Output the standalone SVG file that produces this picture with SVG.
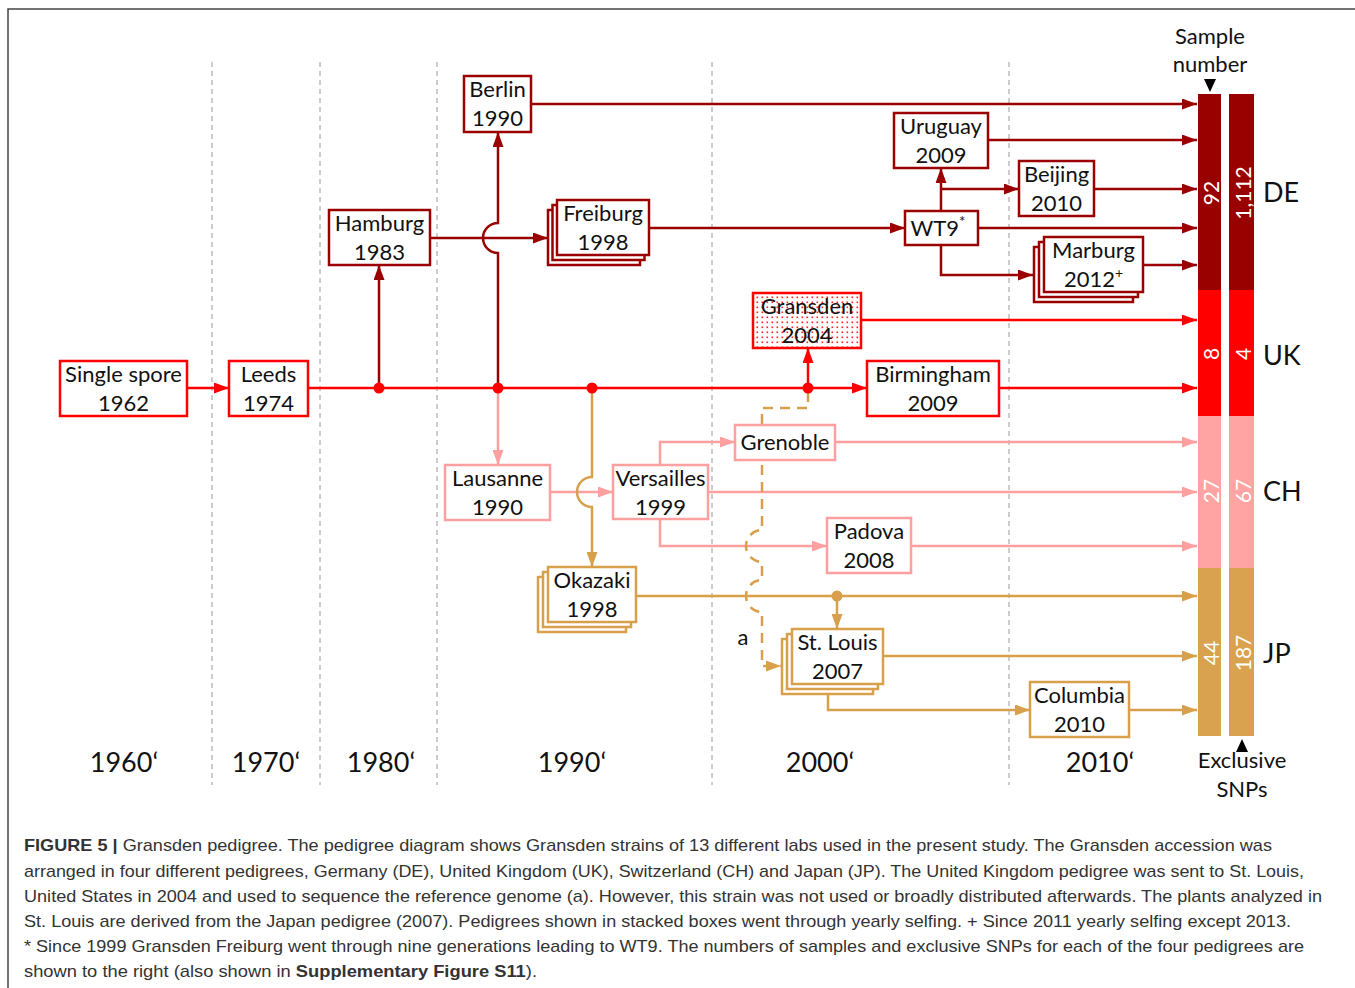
<svg xmlns="http://www.w3.org/2000/svg" width="1355" height="988" viewBox="0 0 1355 988">
<style>
.t{font-family:Lato,"Open Sans",sans-serif;font-size:22px;fill:#111;text-anchor:middle}
.dec{font-family:Lato,"Open Sans",sans-serif;font-size:27px;fill:#111;text-anchor:middle}
.lab{font-family:Lato,"Open Sans",sans-serif;font-size:27px;fill:#111}
.num{font-family:Lato,"Open Sans",sans-serif;font-size:21px;fill:#fff;text-anchor:middle;dominant-baseline:central}
.cap{font-family:"Liberation Sans",Arial,sans-serif;font-size:17px;fill:#333}
.grid{stroke:#9a9a9a;stroke-width:1;stroke-dasharray:5 4;fill:none}
.dr{stroke:#9b0000;stroke-width:2.5;fill:none}
.r{stroke:#ff0000;stroke-width:2.5;fill:none}
.pk{stroke:#ffa0a0;stroke-width:2.5;fill:none}
.tn{stroke:#d9a04b;stroke-width:2.5;fill:none}
.bdr{stroke:#9b0000;stroke-width:2.5;fill:#fff}
.br{stroke:#ff0000;stroke-width:2.5;fill:#fff}
.bpk{stroke:#ffa0a0;stroke-width:2.5;fill:#fff}
.btn{stroke:#d9a04b;stroke-width:2.5;fill:#fff}
</style>
<defs>
<marker id="adr" markerUnits="userSpaceOnUse" markerWidth="15" markerHeight="11" refX="15" refY="5.5" orient="auto"><path d="M0,0 L15,5.5 L0,11 z" fill="#9b0000"/></marker>
<marker id="ar" markerUnits="userSpaceOnUse" markerWidth="15" markerHeight="11" refX="15" refY="5.5" orient="auto"><path d="M0,0 L15,5.5 L0,11 z" fill="#ff0000"/></marker>
<marker id="apk" markerUnits="userSpaceOnUse" markerWidth="15" markerHeight="11" refX="15" refY="5.5" orient="auto"><path d="M0,0 L15,5.5 L0,11 z" fill="#ffa0a0"/></marker>
<marker id="atn" markerUnits="userSpaceOnUse" markerWidth="15" markerHeight="11" refX="15" refY="5.5" orient="auto"><path d="M0,0 L15,5.5 L0,11 z" fill="#d9a04b"/></marker>
<pattern id="dots" patternUnits="userSpaceOnUse" width="5" height="5"><rect width="5" height="5" fill="#fff"/><rect x="1.5" y="1.5" width="1.6" height="1.6" fill="#ff2020"/></pattern>
</defs>
<rect width="1355" height="988" fill="#fff"/>
<path d="M8,988 V9 H1355" fill="none" stroke="#444" stroke-width="1.5"/>

<g id="grid">
<line class="grid" x1="212" y1="62" x2="212" y2="785"/>
<line class="grid" x1="320" y1="62" x2="320" y2="785"/>
<line class="grid" x1="437" y1="62" x2="437" y2="785"/>
<line class="grid" x1="712" y1="62" x2="712" y2="785"/>
<line class="grid" x1="1009" y1="62" x2="1009" y2="785"/>
</g>

<g id="connectors">
<path class="r" d="M187,388 H229" marker-end="url(#ar)"/>
<path class="r" d="M308,388 H867" marker-end="url(#ar)"/>
<path class="r" d="M808,388 V348" marker-end="url(#ar)"/>
<path class="r" d="M861,320 H1197" marker-end="url(#ar)"/>
<path class="r" d="M999,388 H1197" marker-end="url(#ar)"/>
<path class="dr" d="M379,388 V265" marker-end="url(#adr)"/>
<path class="dr" d="M498,388 V253 A15,15 0 0 1 498,223 V132" marker-end="url(#adr)"/>
<path class="dr" d="M430,238 H548" marker-end="url(#adr)"/>
<path class="dr" d="M531,104 H1197" marker-end="url(#adr)"/>
<path class="dr" d="M649,228 H905" marker-end="url(#adr)"/>
<path class="dr" d="M941,211 V168" marker-end="url(#adr)"/>
<path class="dr" d="M941,189 H1019" marker-end="url(#adr)"/>
<path class="dr" d="M941,245 V275 H1033" marker-end="url(#adr)"/>
<path class="dr" d="M988,140 H1197" marker-end="url(#adr)"/>
<path class="dr" d="M1094,189 H1197" marker-end="url(#adr)"/>
<path class="dr" d="M978,228 H1197" marker-end="url(#adr)"/>
<path class="dr" d="M1143,265 H1197" marker-end="url(#adr)"/>
<path class="pk" d="M498,388 V465" marker-end="url(#apk)"/>
<path class="pk" d="M550,492 H613" marker-end="url(#apk)"/>
<path class="pk" d="M660,465 V442 H735" marker-end="url(#apk)"/>
<path class="pk" d="M660,519 V546 H827" marker-end="url(#apk)"/>
<path class="pk" d="M835,442 H1197" marker-end="url(#apk)"/>
<path class="pk" d="M708,492 H1197" marker-end="url(#apk)"/>
<path class="pk" d="M911,546 H1197" marker-end="url(#apk)"/>
<path class="tn" d="M592,388 V477 A15,15 0 0 0 592,507 V567" marker-end="url(#atn)"/>
<path class="tn" d="M636,596 H1197" marker-end="url(#atn)"/>
<path class="tn" d="M837,596 V629" marker-end="url(#atn)"/>
<path class="tn" d="M883,656 H1197" marker-end="url(#atn)"/>
<path class="tn" d="M828,693 V710 H1030" marker-end="url(#atn)"/>
<path class="tn" d="M1129,710 H1197" marker-end="url(#atn)"/>
<path class="tn" d="M808,392 V408 H762 V530 A16,16 0 0 0 762,562 V580 A16,16 0 0 0 762,612 V666 H781" stroke-dasharray="10 7" marker-end="url(#atn)"/>
<circle cx="379" cy="388" r="5.5" fill="#ff0000"/>
<circle cx="498" cy="388" r="5.5" fill="#ff0000"/>
<circle cx="592" cy="388" r="5.5" fill="#ff0000"/>
<circle cx="808" cy="388" r="5.5" fill="#ff0000"/>
<circle cx="837" cy="596" r="5.5" fill="#d9a04b"/>
</g>

<g id="n-single"><rect class="br" x="60" y="361" width="127" height="55"/><text class="t" x="123.5" y="382">Single spore</text><text class="t" x="123.5" y="411">1962</text></g>
<g id="n-leeds"><rect class="br" x="229" y="361" width="79" height="55"/><text class="t" x="268.5" y="382">Leeds</text><text class="t" x="268.5" y="411">1974</text></g>
<g id="n-hamburg"><rect class="bdr" x="329" y="210" width="101" height="55"/><text class="t" x="379.5" y="231">Hamburg</text><text class="t" x="379.5" y="260">1983</text></g>
<g id="n-berlin"><rect class="bdr" x="464" y="76" width="67" height="56"/><text class="t" x="497.5" y="97">Berlin</text><text class="t" x="497.5" y="126">1990</text></g>
<g id="n-freiburg"><rect class="bdr" x="548" y="210" width="92" height="55"/><rect class="bdr" x="552.5" y="205" width="92" height="55"/><rect class="bdr" x="557" y="200" width="92" height="55"/><text class="t" x="603" y="221">Freiburg</text><text class="t" x="603" y="250">1998</text></g>
<g id="n-wt9"><rect class="bdr" x="905" y="211" width="73" height="34"/><text class="t" x="938" y="236">WT9<tspan font-size="15" dy="-9">*</tspan></text></g>
<g id="n-uruguay"><rect class="bdr" x="894" y="113" width="94" height="55"/><text class="t" x="941" y="134">Uruguay</text><text class="t" x="941" y="163">2009</text></g>
<g id="n-beijing"><rect class="bdr" x="1019" y="161" width="75" height="55"/><text class="t" x="1056.5" y="182">Beijing</text><text class="t" x="1056.5" y="211">2010</text></g>
<g id="n-marburg"><rect class="bdr" x="1034" y="247" width="99" height="55"/><rect class="bdr" x="1039" y="242" width="99" height="55"/><rect class="bdr" x="1044" y="237" width="99" height="55"/><text class="t" x="1093.5" y="258">Marburg</text><text class="t" x="1093.5" y="287">2012<tspan font-size="14" dy="-9">+</tspan></text></g>
<g id="n-gransden"><rect stroke="#ff0000" stroke-width="2.5" fill="url(#dots)" x="753" y="293" width="108" height="55"/><text class="t" x="807" y="314">Gransden</text><text class="t" x="807" y="343">2004</text></g>
<g id="n-birmingham"><rect class="br" x="867" y="361" width="132" height="55"/><text class="t" x="933" y="382">Birmingham</text><text class="t" x="933" y="411">2009</text></g>
<g id="n-grenoble"><rect class="bpk" x="735" y="425" width="100" height="35"/><text class="t" x="785" y="450">Grenoble</text></g>
<g id="n-lausanne"><rect class="bpk" x="445" y="465" width="105" height="55"/><text class="t" x="497.5" y="486">Lausanne</text><text class="t" x="497.5" y="515">1990</text></g>
<g id="n-versailles"><rect class="bpk" x="613" y="465" width="95" height="54"/><text class="t" x="660.5" y="486">Versailles</text><text class="t" x="660.5" y="515">1999</text></g>
<g id="n-padova"><rect class="bpk" x="827" y="518" width="84" height="55"/><text class="t" x="869" y="539">Padova</text><text class="t" x="869" y="568">2008</text></g>
<g id="n-okazaki"><rect class="btn" x="538" y="577" width="88" height="55"/><rect class="btn" x="543" y="572" width="88" height="55"/><rect class="btn" x="548" y="567" width="88" height="55"/><text class="t" x="592" y="588">Okazaki</text><text class="t" x="592" y="617">1998</text></g>
<g id="n-stlouis"><rect class="btn" x="782" y="639" width="91" height="55"/><rect class="btn" x="787" y="634" width="91" height="55"/><rect class="btn" x="792" y="629" width="91" height="55"/><text class="t" x="837.5" y="650">St. Louis</text><text class="t" x="837.5" y="679">2007</text></g>
<g id="n-columbia"><rect class="btn" x="1030" y="682" width="99" height="55"/><text class="t" x="1079.5" y="703">Columbia</text><text class="t" x="1079.5" y="732">2010</text></g>
<text class="t" x="743" y="645" font-size="20">a</text>

<g id="bars">
<rect x="1198" y="94" width="23" height="196" fill="#990000"/>
<rect x="1229" y="94" width="25" height="196" fill="#990000"/>
<rect x="1198" y="290" width="23" height="126" fill="#ff0000"/>
<rect x="1229" y="290" width="25" height="126" fill="#ff0000"/>
<rect x="1198" y="416" width="23" height="152" fill="#ffa3a3"/>
<rect x="1229" y="416" width="25" height="152" fill="#ffa3a3"/>
<rect x="1198" y="568" width="23" height="168" fill="#d9a24f"/>
<rect x="1229" y="568" width="25" height="168" fill="#d9a24f"/>
<text class="num" transform="translate(1210,193) rotate(-90)">92</text>
<text class="num" transform="translate(1242,193) rotate(-90)">1,112</text>
<text class="num" transform="translate(1210,354) rotate(-90)">8</text>
<text class="num" transform="translate(1242,354) rotate(-90)">4</text>
<text class="num" transform="translate(1210,491) rotate(-90)">27</text>
<text class="num" transform="translate(1242,491) rotate(-90)">67</text>
<text class="num" transform="translate(1210,653) rotate(-90)">44</text>
<text class="num" transform="translate(1242,653) rotate(-90)">187</text>
<text class="lab" x="1263" y="202">DE</text>
<text class="lab" x="1263" y="365">UK</text>
<text class="lab" x="1263" y="501">CH</text>
<text class="lab" x="1263" y="663">JP</text>
<text class="t" x="1210" y="44" font-size="21">Sample</text>
<text class="t" x="1210" y="72" font-size="21">number</text>
<path d="M1204,79 L1216,79 L1210,92 z" fill="#000"/>
<path d="M1236,752 L1248,752 L1242,739 z" fill="#000"/>
<text class="t" x="1242" y="768" font-size="21">Exclusive</text>
<text class="t" x="1242" y="797" font-size="21">SNPs</text>
</g>

<g id="decades">
<text class="dec" x="124" y="772">1960‘</text>
<text class="dec" x="266" y="772">1970‘</text>
<text class="dec" x="381" y="772">1980‘</text>
<text class="dec" x="572" y="772">1990‘</text>
<text class="dec" x="820" y="772">2000‘</text>
<text class="dec" x="1100" y="772">2010‘</text>
</g>

<g id="caption">
<text class="cap" x="24" y="851" textLength="1248" lengthAdjust="spacingAndGlyphs"><tspan font-weight="bold">FIGURE 5 |</tspan> Gransden pedigree. The pedigree diagram shows Gransden strains of 13 different labs used in the present study. The Gransden accession was</text>
<text class="cap" x="24" y="877" textLength="1280" lengthAdjust="spacingAndGlyphs">arranged in four different pedigrees, Germany (DE), United Kingdom (UK), Switzerland (CH) and Japan (JP). The United Kingdom pedigree was sent to St. Louis,</text>
<text class="cap" x="24" y="902" textLength="1298" lengthAdjust="spacingAndGlyphs">United States in 2004 and used to sequence the reference genome (a). However, this strain was not used or broadly distributed afterwards. The plants analyzed in</text>
<text class="cap" x="24" y="927" textLength="1267" lengthAdjust="spacingAndGlyphs">St. Louis are derived from the Japan pedigree (2007). Pedigrees shown in stacked boxes went through yearly selfing. + Since 2011 yearly selfing except 2013.</text>
<text class="cap" x="24" y="952" textLength="1280" lengthAdjust="spacingAndGlyphs">* Since 1999 Gransden Freiburg went through nine generations leading to WT9. The numbers of samples and exclusive SNPs for each of the four pedigrees are</text>
<text class="cap" x="24" y="977" textLength="513" lengthAdjust="spacingAndGlyphs">shown to the right (also shown in <tspan font-weight="bold">Supplementary Figure S11</tspan>).</text>
</g>
</svg>
